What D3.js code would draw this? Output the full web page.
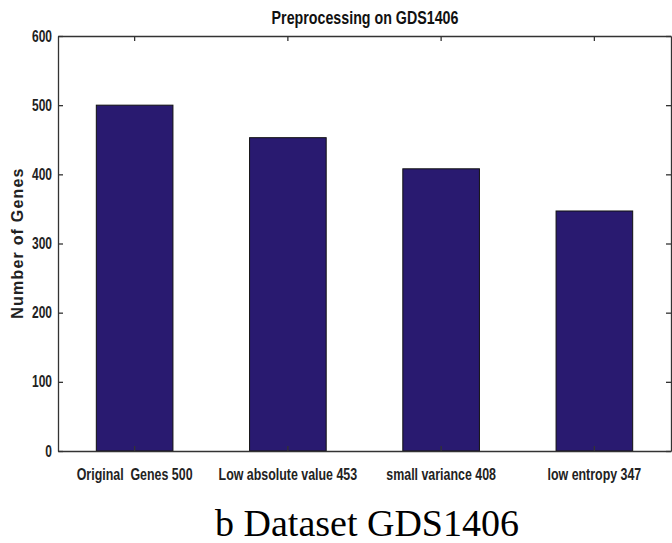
<!DOCTYPE html>
<html><head><meta charset="utf-8">
<script src="https://cdn.jsdelivr.net/npm/d3@7"></script>
<style>body{margin:0;background:#fff}svg{display:block}</style>
</head><body>
<script>
const categories = ["Original  Genes 500", "Low absolute value 453", "small variance 408", "low entropy 347"];
const values = [500, 453, 408, 347];
const yTicks = [0, 100, 200, 300, 400, 500, 600];
const title = "Preprocessing on GDS1406";
const yLabel = "Number of Genes";
const caption = "b Dataset GDS1406";

(function(){
const W = 672, H = 543;
const m = {left: 58, right: 671, top: 36, bottom: 451};
const svg = d3.select("body").append("svg").attr("width", W).attr("height", H);

const x = d3.scaleBand().domain(categories).range([m.left, m.right]).paddingInner(0.5).paddingOuter(0.25);
const y = d3.scaleLinear().domain([0, 600]).range([m.bottom, m.top]);

const sans = "'Liberation Sans',Arial,sans-serif";
// emulate a narrow bold face: horizontal scale about the text's own anchor point
const narrowify = (sel, f) => sel.each(function(){
  const t = d3.select(this);
  t.style("white-space", "pre");
  const x0 = +t.attr("x") || 0;
  t.attr("x", x0 / f).attr("transform", `scale(${f},1)`);
});

svg.selectAll("rect.bar").data(values).join("rect")
  .attr("class", "bar")
  .attr("x", (d, i) => x(categories[i]))
  .attr("width", x.bandwidth())
  .attr("y", d => y(d))
  .attr("height", d => y(0) - y(d))
  .attr("fill", "#291a70")
  .attr("stroke", "#111")
  .attr("stroke-width", 1);

const axisStyle = g => {
  g.selectAll("path,line").attr("stroke", "#333").attr("stroke-width", 1.3);
};
const leftAx = svg.append("g").attr("transform", `translate(${m.left},0)`)
  .call(d3.axisLeft(y).tickValues(yTicks).tickSizeInner(-5).tickSizeOuter(0).tickPadding(6));
leftAx.call(axisStyle);
leftAx.selectAll("text").attr("font-family", sans).attr("font-weight", "bold").attr("font-size", 16).attr("fill", "#222")
  .call(narrowify, 0.75);

const rightAx = svg.append("g").attr("transform", `translate(${m.right},0)`)
  .call(d3.axisRight(y).tickValues(yTicks).tickSizeInner(-5).tickSizeOuter(0).tickFormat(""));
rightAx.call(axisStyle);

const bottomAx = svg.append("g").attr("transform", `translate(0,${m.bottom})`)
  .call(d3.axisBottom(x).tickSizeInner(-5).tickSizeOuter(0).tickPadding(17));
bottomAx.call(axisStyle);
bottomAx.selectAll("text").attr("font-family", sans).attr("font-weight", "bold").attr("font-size", 17).attr("fill", "#222")
  .call(narrowify, 0.73);

const topAx = svg.append("g").attr("transform", `translate(0,${m.top})`)
  .call(d3.axisTop(x).tickSizeInner(-5).tickSizeOuter(0).tickFormat(""));
topAx.call(axisStyle);

svg.append("g").attr("transform", "translate(365,24)")
  .append("text").attr("text-anchor", "middle")
  .attr("font-family", sans).attr("font-weight", "bold").attr("font-size", 19).attr("fill", "#111")
  .text(title).call(narrowify, 0.75);

svg.append("text").attr("transform", `translate(23,243) rotate(-90)`).attr("text-anchor", "middle")
  .attr("font-family", sans).attr("font-weight", "bold").attr("font-size", 16)
  .attr("letter-spacing", 1.2).attr("fill", "#222")
  .text(yLabel);

svg.append("text").attr("x", 367).attr("y", 536).attr("text-anchor", "middle")
  .attr("font-family", "'Liberation Serif','Times New Roman',serif").attr("font-size", 38).attr("fill", "#000")
  .text(caption);
})();
</script>
</body></html>
